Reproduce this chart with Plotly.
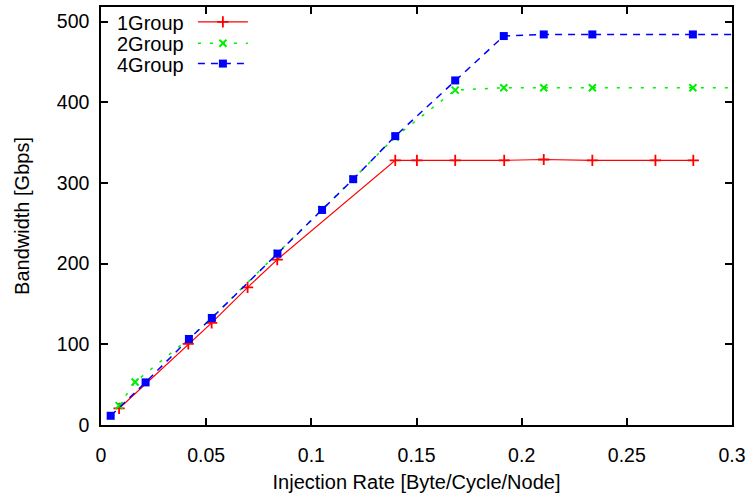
import plotly.graph_objects as go

# ---- data ----
x_1group = [0.0086, 0.0415, 0.0526, 0.0697, 0.0838, 0.1399, 0.1502, 0.1684,
            0.1917, 0.2105, 0.2336, 0.2636, 0.2816]
y_1group = [20.5, 100.5, 126.5, 170.6, 205, 328, 328, 328, 328, 329, 328, 328, 328]

x_2group = [0.0086, 0.0162, 0.0418, 0.0527, 0.0839, 0.1051, 0.1199, 0.1399,
            0.1684, 0.1915, 0.2105, 0.2336, 0.2814, 0.33]
y_2group = [24, 53.3, 107, 133, 213, 267, 305, 357, 415, 418, 418, 418, 418, 418]

x_4group = [0.0046, 0.0212, 0.0418, 0.0527, 0.0839, 0.1051, 0.1199, 0.1399,
            0.1684, 0.1915, 0.2105, 0.2336, 0.2814, 0.33]
y_4group = [11.4, 52.8, 106.6, 132.6, 212.4, 266.5, 304.6, 358, 427, 482,
            484, 484, 484, 484]

series_names = ["1Group", "2Group", "4Group"]
x_ticks = [0, 0.05, 0.1, 0.15, 0.2, 0.25, 0.3]
x_tick_labels = ["0", "0.05", "0.1", "0.15", "0.2", "0.25", "0.3"]
y_ticks = [0, 100, 200, 300, 400, 500]

FONT = "Liberation Sans, Arial, Helvetica, sans-serif"
FS_TICK = 19.5
FS_TEXT = 20

styles = [
    dict(line=dict(color="#ff0000", width=1.2),
         marker=dict(symbol="cross-thin", size=8, line=dict(color="#ff0000", width=1.8))),
    dict(line=dict(color="#00ee00", width=1.5, dash="3px,9px"),
         marker=dict(symbol="x-thin", size=7, line=dict(color="#00ee00", width=2))),
    dict(line=dict(color="#0000ff", width=1.5, dash="7px,6px"),
         marker=dict(symbol="square", size=8, color="#0000ff", line=dict(width=0))),
]

fig = go.Figure()
for (xs, ys), name, st in zip([(x_1group, y_1group), (x_2group, y_2group), (x_4group, y_4group)],
                              series_names, styles):
    fig.add_trace(go.Scatter(x=xs, y=ys, mode="lines+markers", name=name,
                             line=st["line"], marker=st["marker"], showlegend=False,
                             cliponaxis=True))

# custom gnuplot-style legend (text left, sample right) on an overlay pixel axis
leg_rows = [20, 41.5, 62]
for name, st, yrow in zip(series_names, styles, leg_rows):
    fig.add_trace(go.Scatter(x=[198, 248], y=[yrow, yrow], mode="lines", line=st["line"],
                             xaxis="x2", yaxis="y2", showlegend=False, hoverinfo="skip"))
    fig.add_trace(go.Scatter(x=[223], y=[yrow], mode="markers", marker=st["marker"],
                             xaxis="x2", yaxis="y2", showlegend=False, hoverinfo="skip"))
    fig.add_annotation(x=186, y=yrow + 1, xref="x2", yref="y2", text=name, showarrow=False,
                       xanchor="right", yanchor="middle",
                       font=dict(family=FONT, size=FS_TEXT, color="black"))

axis_common = dict(showgrid=False, zeroline=False, showline=True, linecolor="black",
                   linewidth=1.5, mirror="ticks", ticks="inside", ticklen=7, tickwidth=1.5,
                   tickcolor="black", tickfont=dict(family=FONT, size=FS_TICK, color="black"))

fig.update_layout(
    width=751, height=495,
    margin=dict(l=101, r=18, t=5, b=69),
    paper_bgcolor="white", plot_bgcolor="white",
    xaxis=dict(range=[0, 0.3], tickvals=x_ticks, ticktext=x_tick_labels,
               title=dict(text="Injection Rate [Byte/Cycle/Node]",
                          font=dict(family=FONT, size=FS_TEXT, color="black"), standoff=10),
               ticklabelstandoff=12, **axis_common),
    yaxis=dict(range=[0, 518], tickvals=y_ticks,
               title=dict(text="Bandwidth [Gbps]",
                          font=dict(family=FONT, size=FS_TEXT, color="black"), standoff=22),
               ticklabelstandoff=6, **axis_common),
    xaxis2=dict(overlaying="x", range=[101, 732.5], visible=False, fixedrange=True),
    yaxis2=dict(overlaying="y", range=[426, 5], visible=False, fixedrange=True),
    showlegend=False,
)

fig.write_html("out.html")
